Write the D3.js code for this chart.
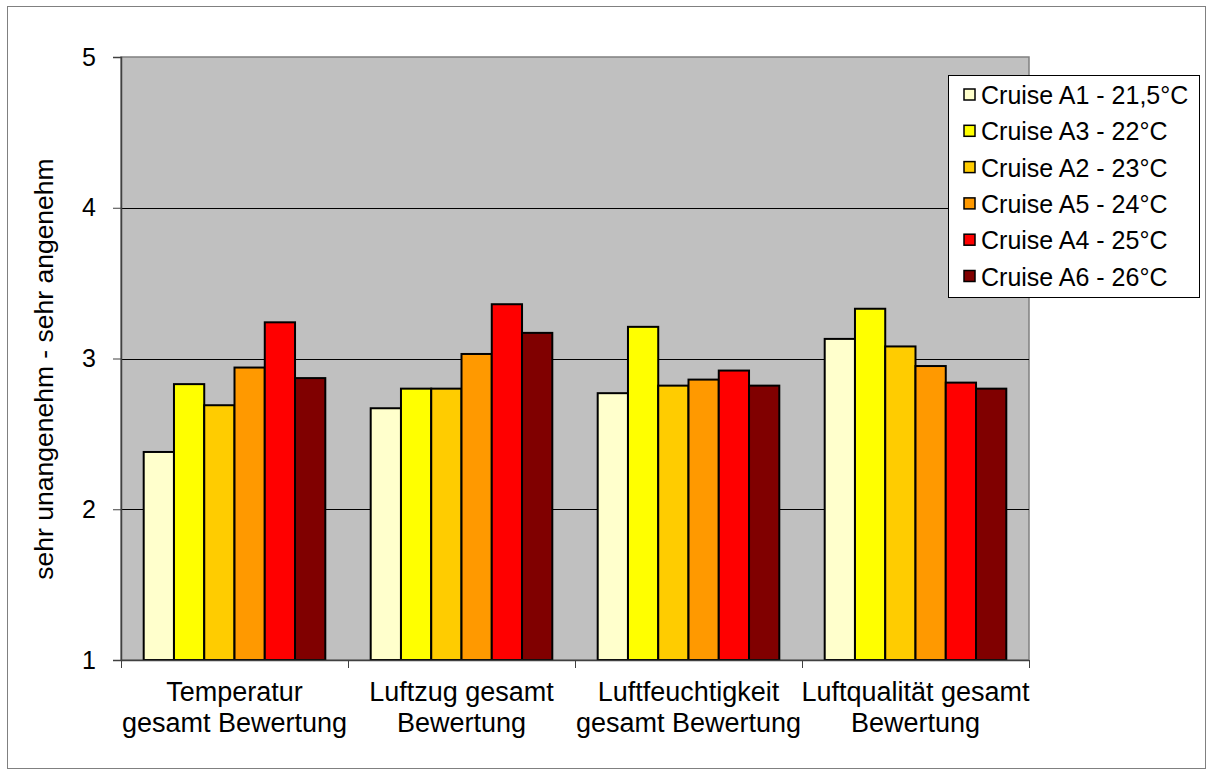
<!DOCTYPE html>
<html>
<head>
<meta charset="utf-8">
<script src="https://cdn.jsdelivr.net/npm/d3@7"></script>
<style>
  html, body { margin: 0; padding: 0; background: #fff; }
  svg { display: block; font-family: "Liberation Sans", Arial, sans-serif; }
</style>
</head>
<body>
<svg id="chart" width="1213" height="776"></svg>
<script>
// Rating categories (two-line labels)
const categories = [
  ["Temperatur", "gesamt Bewertung"],
  ["Luftzug gesamt", "Bewertung"],
  ["Luftfeuchtigkeit", "gesamt Bewertung"],
  ["Luftqualität gesamt", "Bewertung"]
];
// Series in drawing order
const seriesNames = [
  "Cruise A1 - 21,5°C",
  "Cruise A3 - 22°C",
  "Cruise A2 - 23°C",
  "Cruise A5 - 24°C",
  "Cruise A4 - 25°C",
  "Cruise A6 - 26°C"
];
const seriesColors = ["#ffffcc", "#ffff00", "#ffcc00", "#ff9900", "#ff0000", "#800000"];
// Mean ratings per series, one value per category
const valuesA1 = [2.38, 2.67, 2.77, 3.13];
const valuesA3 = [2.83, 2.80, 3.21, 3.33];
const valuesA2 = [2.69, 2.80, 2.82, 3.08];
const valuesA5 = [2.94, 3.03, 2.86, 2.95];
const valuesA4 = [3.24, 3.36, 2.92, 2.84];
const valuesA6 = [2.87, 3.17, 2.82, 2.80];
const yTicks = [1, 2, 3, 4, 5];
const yTitle = "sehr unangenehm - sehr angenehm";

const seriesValues = [valuesA1, valuesA3, valuesA2, valuesA5, valuesA4, valuesA6];

const svg = d3.select("#chart");

// outer frame
svg.append("rect")
  .attr("x", 7.5).attr("y", 6.5)
  .attr("width", 1198).attr("height", 762)
  .attr("fill", "#fff").attr("stroke", "#808080").attr("stroke-width", 1);

const plot = { left: 121, top: 57, right: 1029, bottom: 660 };

const y = d3.scaleLinear().domain([1, 5]).range([plot.bottom, plot.top]);
const x0 = d3.scaleBand()
  .domain(d3.range(categories.length))
  .range([plot.left, plot.right])
  .paddingInner(0.2).paddingOuter(0.1);
const x1 = d3.scaleBand()
  .domain(d3.range(seriesNames.length))
  .range([0, x0.bandwidth()])
  .padding(0);

// plot background
svg.append("rect")
  .attr("x", plot.left).attr("y", plot.top)
  .attr("width", plot.right - plot.left).attr("height", plot.bottom - plot.top)
  .attr("fill", "#c0c0c0").attr("stroke", "#808080").attr("stroke-width", 1.5);

// gridlines
svg.append("g")
  .selectAll("line")
  .data(yTicks.filter(t => t > 1 && t < 5))
  .join("line")
  .attr("x1", plot.left).attr("x2", plot.right)
  .attr("y1", d => Math.round(y(d)) + 0.5).attr("y2", d => Math.round(y(d)) + 0.5)
  .attr("stroke", "#000").attr("stroke-width", 1);

// bars
const groups = svg.append("g")
  .selectAll("g")
  .data(categories.map((c, i) => i))
  .join("g")
  .attr("transform", i => `translate(${x0(i)},0)`);

groups.selectAll("rect")
  .data(i => seriesValues.map((vals, s) => ({ s, v: vals[i] })))
  .join("rect")
  .attr("x", d => x1(d.s))
  .attr("y", d => y(d.v))
  .attr("width", x1.bandwidth())
  .attr("height", d => y(1) - y(d.v))
  .attr("fill", d => seriesColors[d.s])
  .attr("stroke", "#000").attr("stroke-width", 2);

// y axis
const yAxis = d3.axisLeft(y).tickValues(yTicks).tickSize(8).tickPadding(17).tickFormat(d3.format("d"));
const gy = svg.append("g").attr("transform", `translate(${plot.left},0)`).call(yAxis);
gy.select(".domain").attr("stroke", "#404040").attr("stroke-width", 1.5);
gy.selectAll(".tick line").attr("stroke", "#404040");
gy.selectAll(".tick text").attr("font-size", 25).attr("fill", "#000")
  .attr("font-family", "Liberation Sans, Arial, sans-serif");

// x axis: baseline and boundary ticks
const boundaries = d3.range(categories.length + 1).map(i =>
  i < categories.length ? x0(i) - x0.step() * x0.paddingInner() / 2 : plot.right);
svg.append("line")
  .attr("x1", plot.left).attr("x2", plot.right)
  .attr("y1", plot.bottom + 0.5).attr("y2", plot.bottom + 0.5)
  .attr("stroke", "#404040").attr("stroke-width", 1.5);
svg.append("g").selectAll("line")
  .data(boundaries)
  .join("line")
  .attr("x1", d => Math.round(d) + 0.5).attr("x2", d => Math.round(d) + 0.5)
  .attr("y1", plot.bottom).attr("y2", plot.bottom + 8)
  .attr("stroke", "#404040");

// category labels
const catLabels = svg.append("g").selectAll("text")
  .data(categories)
  .join("text")
  .attr("x", (c, i) => x0(i) + x0.bandwidth() / 2)
  .attr("y", 701)
  .attr("text-anchor", "middle")
  .attr("font-size", 27)
  .attr("fill", "#000");
catLabels.selectAll("tspan")
  .data(c => c)
  .join("tspan")
  .attr("x", function () { return this.parentNode.getAttribute("x"); })
  .attr("dy", (d, j) => j === 0 ? 0 : 31)
  .text(d => d);

// y axis title
svg.append("text")
  .attr("transform", `translate(53,369) rotate(-90)`)
  .attr("text-anchor", "middle")
  .attr("font-size", 26.5)
  .attr("fill", "#000")
  .text(yTitle);

// legend
const legend = svg.append("g");
legend.append("rect")
  .attr("x", 948.5).attr("y", 75.5)
  .attr("width", 251).attr("height", 222)
  .attr("fill", "#fff").attr("stroke", "#000").attr("stroke-width", 1);
const items = legend.selectAll("g")
  .data(seriesNames)
  .join("g")
  .attr("transform", (d, i) => `translate(0,${95 + i * 36.3})`);
items.append("rect")
  .attr("x", 964).attr("y", -6)
  .attr("width", 11).attr("height", 11)
  .attr("fill", (d, i) => seriesColors[i])
  .attr("stroke", "#000").attr("stroke-width", 1.5);
items.append("text")
  .attr("x", 981).attr("y", 9)
  .attr("font-size", 25)
  .attr("fill", "#000")
  .text(d => d);
</script>
</body>
</html>
